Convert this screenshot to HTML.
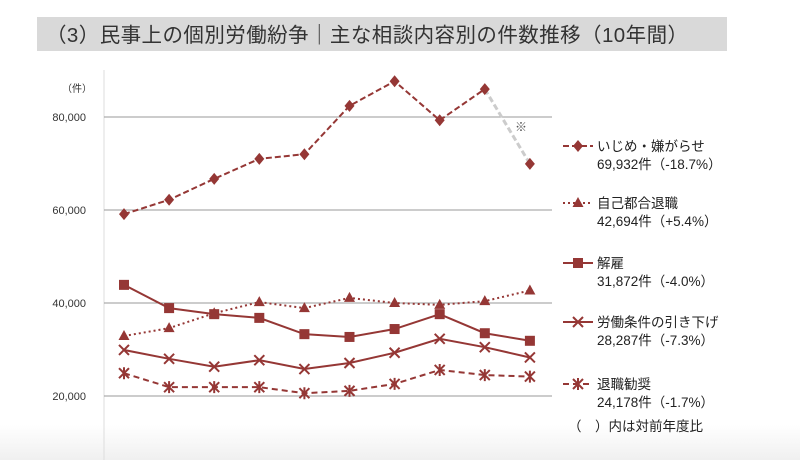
<!DOCTYPE html>
<html><head><meta charset="utf-8"><style>
body{margin:0;width:800px;height:460px;background:#fff;overflow:hidden;font-family:"Liberation Sans","Noto Sans CJK JP",sans-serif}
</style></head><body>
<svg width="800" height="460" xmlns="http://www.w3.org/2000/svg" font-family="Liberation Sans, Noto Sans CJK JP, sans-serif">
<defs><linearGradient id="bg" x1="0" y1="0" x2="0" y2="1"><stop offset="0" stop-color="#fff"/><stop offset="1" stop-color="#f0f0f0"/></linearGradient></defs>
<rect x="0" y="425" width="800" height="35" fill="url(#bg)"/>
<rect x="37" y="17" width="690" height="34" fill="#d9d9d9"/>
<text x="46" y="42" font-size="20.5" fill="#333" textLength="642">（3）民事上の個別労働紛争｜主な相談内容別の件数推移（10年間）</text>
<text x="62" y="92" font-size="10" fill="#333">（件）</text>
<line x1="104" y1="70" x2="104" y2="460" stroke="#ddd"/>
<g id="grid"></g><g id="series"></g><g id="legend"></g>
<text x="515" y="131" font-size="12" fill="#555">※</text>
<text x="568" y="431" font-size="13.5" fill="#222">（　）内は対前年度比</text>
</svg>
<script>
const ticks=[20000,40000,60000,80000];
const tickLabels=["20,000","40,000","60,000","80,000"];
const ijime=[59100,62200,66700,71000,72000,82400,87700,79300,86000,69932];
const jiko=[32900,34600,37800,40200,38900,41100,40000,39600,40400,42694];
const kaiko=[43900,38900,37600,36800,33300,32700,34400,37600,33500,31872];
const rodo=[29900,28000,26300,27700,25800,27100,29300,32300,30500,28287];
const taishoku=[24900,21900,21900,21900,20600,21100,22600,25600,24500,24178];
const names=["いじめ・嫌がらせ","自己都合退職","解雇","労働条件の引き下げ","退職勧奨"];
const notes=["69,932件（-18.7%）","42,694件（+5.4%）","31,872件（-4.0%）","28,287件（-7.3%）","24,178件（-1.7%）"];
const NS="http://www.w3.org/2000/svg",C="#953735";
const y=v=>117+(80000-v)/20000*93, x=i=>124+i*45.1;
function mk(t,a,p){const e=document.createElementNS(NS,t);for(const k in a)e.setAttribute(k,a[k]);(p||document.getElementById('series')).appendChild(e);return e;}
const g=document.getElementById('grid');
ticks.forEach((t,i)=>{const l=mk('line',{x1:104,x2:552,y1:y(t),y2:y(t),stroke:'#999'},g);


const tx=mk('text',{x:86,y:y(t)+4,'font-size':11,'text-anchor':'end',fill:'#333'},g);tx.textContent=tickLabels[i];

});
function marker(type,cx,cy,p){
 if(type==0)return mk('polygon',{points:`${cx},${cy-6} ${cx+5},${cy} ${cx},${cy+6} ${cx-5},${cy}`,fill:C},p);
 if(type==1)return mk('polygon',{points:`${cx},${cy-6} ${cx+5.5},${cy+4} ${cx-5.5},${cy+4}`,fill:C},p);
 if(type==2)return mk('rect',{x:cx-5,y:cy-5,width:10,height:10,fill:C},p);
 if(type==3)return mk('path',{d:`M${cx-5} ${cy-5}L${cx+5} ${cy+5}M${cx-5} ${cy+5}L${cx+5} ${cy-5}`,stroke:C,'stroke-width':2},p);
 return mk('path',{d:`M${cx-5} ${cy-5}L${cx+5} ${cy+5}M${cx-5} ${cy+5}L${cx+5} ${cy-5}M${cx} ${cy-6}V${cy+6}`,stroke:C,'stroke-width':2},p);
}
const data=[ijime,jiko,kaiko,rodo,taishoku],dash=['6,3','2,3','','','6,4'];
const legY=[146,203,263,322,384];
data.forEach((d,s)=>{
 const n=s==0?d.length-1:d.length;
 const pl=mk('polyline',{points:d.slice(0,n).map((v,i)=>x(i)+','+y(v)).join(' '),fill:'none',stroke:C,'stroke-width':2,'stroke-dasharray':dash[s]});
 
 
 if(s==0){const gl=mk('line',{x1:x(8),y1:y(d[8]),x2:x(9),y2:y(d[9]),stroke:'#ccc','stroke-width':3,'stroke-dasharray':'6,3'});
 
 }
 d.forEach((v,i)=>{const m=marker(s,x(i),y(v));
 
 });
 const lg=document.getElementById('legend'),ly=legY[s];
 const ll=mk('line',{x1:563,x2:593,y1:ly,y2:ly,stroke:C,'stroke-width':2,'stroke-dasharray':dash[s]},lg);
 
 
 const lm=marker(s,578,ly,lg);
 
 
 const t1=mk('text',{x:597,y:ly+5,'font-size':13.5,fill:'#222'},lg);t1.textContent=names[s];
 
 
 const t2=mk('text',{x:597,y:ly+23,'font-size':13.5,fill:'#222'},lg);t2.textContent=notes[s];
 
 
});
</script>
</body></html>
